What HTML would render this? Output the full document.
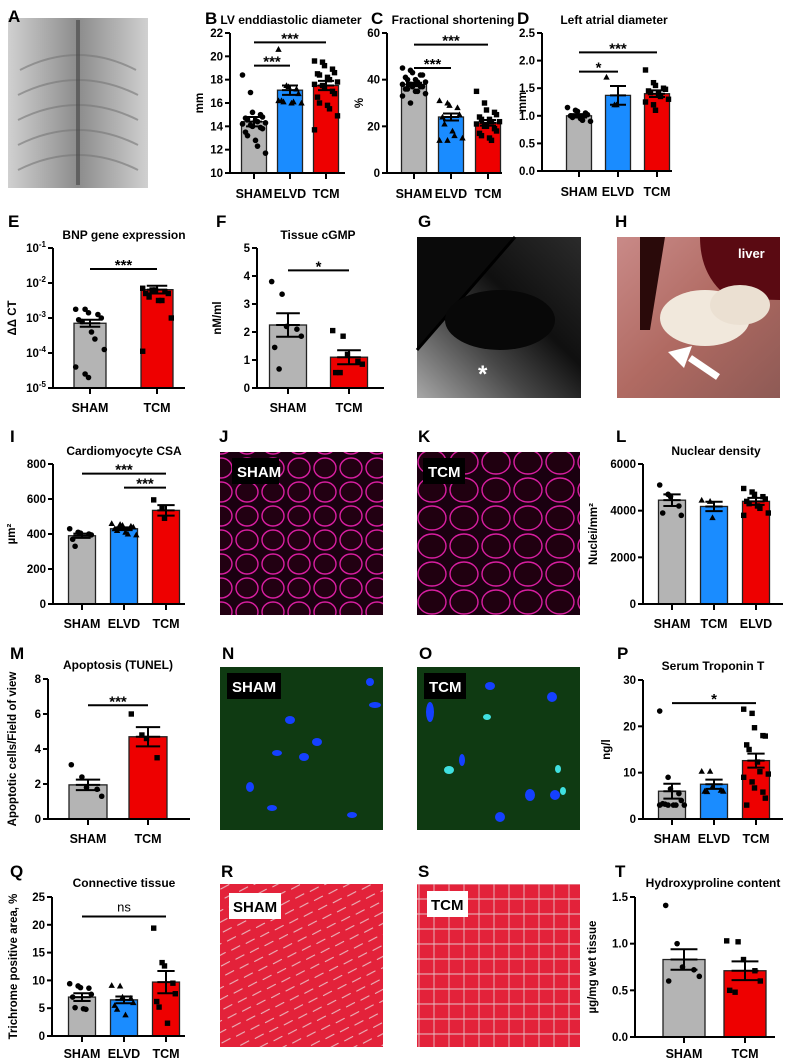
<!DOCTYPE html>
<html><head><meta charset="utf-8"><style>
html,body{margin:0;padding:0;background:#fff}
svg{display:block;font-family:"Liberation Sans",Arial,sans-serif}
</style></head><body>
<svg id="fig" width="788" height="1062" viewBox="0 0 788 1062" xmlns="http://www.w3.org/2000/svg">
<defs>
<linearGradient id="gA" x1="0" y1="0" x2="1" y2="0"><stop offset="0" stop-color="#d0d0d0"/><stop offset=".5" stop-color="#8c8c8c"/><stop offset="1" stop-color="#d0d0d0"/></linearGradient>
<linearGradient id="gG" x1="0" y1="1" x2="1" y2="0"><stop offset="0" stop-color="#cfcfcf"/><stop offset=".35" stop-color="#555"/><stop offset=".6" stop-color="#111"/><stop offset="1" stop-color="#333"/></linearGradient>
<linearGradient id="gH" x1="0" y1="0" x2="1" y2="1"><stop offset="0" stop-color="#c98a88"/><stop offset=".5" stop-color="#b06a62"/><stop offset="1" stop-color="#8e5a55"/></linearGradient>
<pattern id="pJ" width="26" height="24" patternUnits="userSpaceOnUse"><rect width="26" height="24" fill="#1a0010"/><ellipse cx="13" cy="12" rx="11" ry="10" fill="#220012" stroke="#d81ea0" stroke-width="1.4"/></pattern>
<pattern id="pK" width="32" height="28" patternUnits="userSpaceOnUse"><rect width="32" height="28" fill="#1a0010"/><ellipse cx="16" cy="14" rx="14" ry="12" fill="#200010" stroke="#d81ea0" stroke-width="1.4"/></pattern>
<pattern id="pR" width="16" height="10" patternUnits="userSpaceOnUse" patternTransform="rotate(-25)"><rect width="16" height="10" fill="#e3223a"/><path d="M0 9 L10 8.5" stroke="#e9c3c8" stroke-width="1"/></pattern>
<pattern id="pS" width="15" height="15" patternUnits="userSpaceOnUse"><rect width="15" height="15" fill="#e3223a"/><path d="M0 14 H15 M14 0 V15" stroke="#e6c1c6" stroke-width="0.9"/></pattern>
</defs>
<g id="images">
<g><rect x="8" y="18" width="140" height="170" fill="url(#gA)"/><g fill="none" stroke="#777" stroke-width="2" opacity=".6"><path d="M20 70 Q78 40 136 70"/><path d="M18 95 Q78 65 138 95"/><path d="M18 120 Q78 90 138 120"/><path d="M18 145 Q78 115 138 145"/><path d="M18 170 Q78 140 138 170"/></g><path d="M78 20 V185" stroke="#444" stroke-width="4" opacity=".6"/></g>
<g><rect x="417" y="237" width="164" height="161" fill="#0a0a0a"/><path d="M417 350 L515 237 L581 237 L581 398 L417 398Z" fill="url(#gG)" opacity=".8"/><path d="M417 350 L515 237" stroke="#000" stroke-width="3"/><ellipse cx="500" cy="320" rx="55" ry="30" fill="#080808"/><text x="478" y="382" font-size="24" font-weight="bold" fill="#fff">*</text></g>
<g><rect x="617" y="237" width="163" height="161" fill="url(#gH)"/><path d="M700 237 H780 V300 Q740 300 720 290 Q700 270 700 237Z" fill="#5a0a12"/><path d="M640 237 L665 237 L650 330 L640 330Z" fill="#2a0a0a"/><ellipse cx="705" cy="318" rx="45" ry="28" fill="#f1e8dc"/><ellipse cx="740" cy="305" rx="30" ry="20" fill="#ebe0d2"/><text x="738" y="258" font-size="13" font-weight="bold" fill="#fff">liver</text><path d="M718 377 L690 358" stroke="#fff" stroke-width="7"/><path d="M668 352 L692 346 L684 368Z" fill="#fff"/></g>
<g><rect x="220" y="452" width="163" height="163" fill="url(#pJ)"/><rect x="232" y="458" width="47" height="26" fill="#000"/><text x="237" y="477" font-size="15" font-weight="bold" fill="#fff">SHAM</text></g>
<g><rect x="417" y="452" width="163" height="163" fill="url(#pK)"/><rect x="423" y="458" width="42" height="26" fill="#000"/><text x="428" y="477" font-size="15" font-weight="bold" fill="#fff">TCM</text></g>
<g><rect x="220" y="667" width="163" height="163" fill="#0f3a12"/><g fill="#1540ff"><ellipse cx="290" cy="720" rx="5" ry="4"/><ellipse cx="317" cy="742" rx="5" ry="4"/><ellipse cx="304" cy="757" rx="5" ry="4"/><ellipse cx="277" cy="753" rx="5" ry="3"/><ellipse cx="250" cy="787" rx="4" ry="5"/><ellipse cx="272" cy="808" rx="5" ry="3"/><ellipse cx="370" cy="682" rx="4" ry="4"/><ellipse cx="375" cy="705" rx="6" ry="3"/><ellipse cx="352" cy="815" rx="5" ry="3"/></g><rect x="227" y="673" width="54" height="26" fill="#000"/><text x="232" y="692" font-size="15" font-weight="bold" fill="#fff">SHAM</text></g>
<g><rect x="417" y="667" width="163" height="163" fill="#0f3a12"/><g fill="#1540ff"><ellipse cx="490" cy="686" rx="5" ry="4"/><ellipse cx="552" cy="697" rx="5" ry="5"/><ellipse cx="462" cy="760" rx="3" ry="6"/><ellipse cx="530" cy="795" rx="5" ry="6"/><ellipse cx="555" cy="795" rx="5" ry="5"/><ellipse cx="500" cy="817" rx="5" ry="5"/><ellipse cx="430" cy="712" rx="4" ry="10"/></g><g fill="#40e0e0"><ellipse cx="487" cy="717" rx="4" ry="3"/><ellipse cx="558" cy="769" rx="3" ry="4"/><ellipse cx="449" cy="770" rx="5" ry="4"/><ellipse cx="563" cy="791" rx="3" ry="4"/></g><rect x="424" y="673" width="42" height="26" fill="#000"/><text x="429" y="692" font-size="15" font-weight="bold" fill="#fff">TCM</text></g>
<g><rect x="220" y="884" width="163" height="163" fill="url(#pR)"/><rect x="229" y="893" width="52" height="26" fill="#fff"/><text x="233" y="912" font-size="15" font-weight="bold" fill="#000">SHAM</text></g>
<g><rect x="417" y="884" width="163" height="163" fill="url(#pS)"/><rect x="427" y="891" width="41" height="26" fill="#fff"/><text x="431" y="910" font-size="15" font-weight="bold" fill="#000">TCM</text></g>
</g>
<g id="charts"></g>
<g id="letters" font-size="17" font-weight="bold">
<text x="8" y="22">A</text><text x="205" y="24">B</text><text x="371" y="24">C</text><text x="517" y="24">D</text>
<text x="8" y="227">E</text><text x="216" y="227">F</text><text x="418" y="227">G</text><text x="615" y="227">H</text>
<text x="10" y="442">I</text><text x="219" y="442">J</text><text x="418" y="442">K</text><text x="616" y="442">L</text>
<text x="10" y="659">M</text><text x="222" y="659">N</text><text x="419" y="659">O</text><text x="617" y="659">P</text>
<text x="10" y="877">Q</text><text x="221" y="877">R</text><text x="418" y="877">S</text><text x="615" y="877">T</text>
</g>
</svg>
<script>
// ---- data ----
const B_cats=["SHAM","ELVD","TCM"];
const B_means=[14.4,17.1,17.5];
const B_sems=[0.4,0.4,0.4];
const B_pts=[[18.4,16.9,15.2,15.0,14.8,14.7,14.6,14.5,14.4,14.3,14.2,14.1,14.0,13.9,13.8,13.5,13.2,12.8,12.3,11.7],[20.6,17.5,17.4,17.2,16.8,16.2,16.1,16.0,16.1,16.0,16.2],[19.6,19.5,19.2,18.9,18.6,18.5,18.4,18.2,18.0,17.8,17.6,17.5,17.3,17.0,16.8,16.5,16.0,15.8,15.5,14.9,13.7]];
const B_ticks=[10,12,14,16,18,20,22];
const B_sig=[[0,2,21.2,"***"],[0,1,19.2,"***"]];

const C_cats=["SHAM","ELVD","TCM"];
const C_means=[38,24,21.5];
const C_sems=[0.7,1.5,1.2];
const C_pts=[[45,44,43,42,42,41,40,40,39,39,38,38,37,37,37,36,36,35,35,34,33,30],[31,30,29,28,25,24,21,18,16,15,14,14],[35,30,27,26,25,24,23,23,22,22,21,20,20,19,18,17,16,15,14]];
const C_ticks=[0,20,40,60];
const C_sig=[[0,2,55,"***"],[0,1,45,"***"]];

const D_cats=["SHAM","ELVD","TCM"];
const D_means=[1.0,1.37,1.4];
const D_sems=[0.03,0.17,0.06];
const D_pts=[[1.15,1.1,1.08,1.05,1.02,1.0,0.97,0.95,0.92,0.9],[1.7,1.2,1.2],[1.83,1.6,1.55,1.5,1.48,1.45,1.42,1.4,1.35,1.3,1.25,1.2,1.1]];
const D_ticks=[0,0.5,1.0,1.5,2.0,2.5];
const D_sig=[[0,2,2.15,"***"],[0,1,1.8,"*"]];

// E values are log10 of ΔΔCT
const E_cats=["SHAM","TCM"];
const E_means=[-3.15,-2.19];
const E_sems=[0.1,0.11];
const E_pts=[[-2.75,-2.75,-2.85,-2.9,-3.0,-3.05,-3.1,-3.4,-3.6,-3.9,-4.4,-4.6,-4.7],[-2.15,-2.2,-2.2,-2.25,-2.3,-2.3,-2.4,-2.5,-2.5,-3.0,-3.95]];
const E_ticks=[-5,-4,-3,-2,-1];
const E_sig=[[0,1,-1.6,"***"]];

const F_cats=["SHAM","TCM"];
const F_means=[2.25,1.1];
const F_sems=[0.42,0.25];
const F_pts=[[3.8,3.35,2.2,2.1,1.85,1.45,0.68],[2.05,1.85,1.2,0.95,0.85,0.55,0.55]];
const F_ticks=[0,1,2,3,4,5];
const F_sig=[[0,1,4.2,"*"]];

const I_cats=["SHAM","ELVD","TCM"];
const I_means=[390,430,535];
const I_sems=[12,8,30];
const I_pts=[[430,410,405,400,395,370,330],[460,455,450,445,440,430,420,410,400,395],[595,550,490]];
const I_ticks=[0,200,400,600,800];
const I_sig=[[0,2,745,"***"],[1,2,665,"***"]];

const L_cats=["SHAM","TCM","ELVD"];
const L_means=[4450,4180,4400];
const L_sems=[250,200,150];
const L_pts=[[5100,4700,4600,4200,3800,3900],[4450,4400,3700],[4950,4800,4700,4600,4500,4400,4300,4200,4100,3900,3800]];
const L_ticks=[0,2000,4000,6000];
const L_sig=[];

const M_cats=["SHAM","TCM"];
const M_means=[1.95,4.7];
const M_sems=[0.3,0.55];
const M_pts=[[3.1,2.4,1.8,1.7,1.3],[6.0,4.8,4.6,3.5]];
const M_ticks=[0,2,4,6,8];
const M_sig=[[0,1,6.5,"***"]];

const P_cats=["SHAM","ELVD","TCM"];
const P_means=[6.0,7.5,12.6];
const P_sems=[1.6,1.0,1.5];
const P_pts=[[23.3,9.0,6.5,5.5,4.0,3.3,3.2,3.0,3.0,3.0,3.0,3.0],[10.3,10.3,7.0,6.2,6.0,6.0,5.9],[23.7,22.8,19.7,18.0,17.9,16.0,15.0,12.3,10.2,9.7,9.0,8.0,6.7,5.8,4.5,3.0]];
const P_ticks=[0,10,20,30];
const P_sig=[[0,2,25,"*"]];

const Q_cats=["SHAM","ELVD","TCM"];
const Q_means=[7.0,6.5,9.7];
const Q_sems=[0.7,0.6,2.0];
const Q_pts=[[9.4,9.0,8.7,8.6,7.5,7.0,5.1,4.9,4.8],[9.1,9.0,7.0,6.8,6.0,5.5,4.8,3.8],[19.4,13.2,12.6,9.5,7.6,6.2,5.2,2.3]];
const Q_ticks=[0,5,10,15,20,25];
const Q_sig=[[0,2,21.5,"ns"]];

const T_cats=["SHAM","TCM"];
const T_means=[0.83,0.71];
const T_sems=[0.11,0.1];
const T_pts=[[1.41,1.0,0.75,0.72,0.65,0.6],[1.03,1.02,0.83,0.71,0.6,0.5,0.48]];
const T_ticks=[0,0.5,1.0,1.5];
const T_sig=[];

// ---- drawing ----
const NS="http://www.w3.org/2000/svg";
const root=document.getElementById("charts");
function mk(tag,attrs,parent){const e=document.createElementNS(NS,tag);for(const k in attrs)e.setAttribute(k,attrs[k]);parent.appendChild(e);return e;}
const COL3=["#b4b4b4","#1a8cff","#ee0000"],COL2=["#b4b4b4","#ee0000"];
const MARK3=["circle","tri","square"],MARK2=["circle","square"];

function chart(id,o){
  const g=mk("g",{},root);
  
  
  const n=o.cats.length,cols=n===3?COL3:COL2,marks=n===3?MARK3:MARK2;
  const lo=o.ticks[0],hi=o.ticks[o.ticks.length-1];
  const Y=v=>o.yb-(v-lo)/(hi-lo)*(o.yb-o.yt);
  const X=i=>o.x0+o.step*i;
  const t=mk("text",{x:o.tx,y:o.ty,"font-size":12,"font-weight":"bold","text-anchor":"middle"},g);t.textContent=o.title;
  
  
  const yt=mk("text",{x:0,y:0,"font-size":11.5,"font-weight":"bold","text-anchor":"middle",transform:`translate(${o.ytx},${(o.yt+o.yb)/2}) rotate(-90)`},g);yt.textContent=o.ylabel;
  
  
  for(let i=0;i<n;i++){
    const r=mk("rect",{x:X(i)-o.bw/2,y:Y(o.means[i]),width:o.bw,height:o.yb-Y(o.means[i]),fill:cols[i],stroke:"#222","stroke-width":1.3},g);
    
    
  }
  for(let i=0;i<n;i++){
    o.pts[i].forEach((v,k)=>{
      const off=((k%5)-2)*o.bw*0.2+((k%2)?1:-1)*1.5;
      const cx=X(i)+off,cy=Y(v);
      let e;
      if(marks[i]==="circle")e=mk("circle",{cx,cy,r:2.8,fill:"#000"},g);
      else if(marks[i]==="square")e=mk("rect",{x:cx-2.7,y:cy-2.7,width:5.4,height:5.4,fill:"#000"},g);
      else e=mk("path",{d:`M${cx} ${cy-3.3}L${cx+3.2} ${cy+2.5}L${cx-3.2} ${cy+2.5}Z`,fill:"#000"},g);
      
      
    });
  }
  for(let i=0;i<n;i++){
    const a=Y(o.means[i]+o.sems[i]),b=Y(o.means[i]-o.sems[i]),w=o.bw*0.32;
    const e=mk("path",{d:`M${X(i)} ${a}V${b}M${X(i)-w} ${a}H${X(i)+w}M${X(i)-w} ${b}H${X(i)+w}M${X(i)-w} ${Y(o.means[i])}H${X(i)+w}`,stroke:"#000","stroke-width":2,fill:"none"},g);
    
    
  }
  const ya=mk("path",{d:`M${o.ax} ${o.yt}V${o.yb}`,stroke:"#000","stroke-width":2},g);
  
  
  const xa=mk("path",{d:`M${o.ax} ${o.yb}H${o.xe}`,stroke:"#000","stroke-width":2},g);
  
  
  o.ticks.forEach(v=>{
    mk("path",{d:`M${o.ax-5} ${Y(v)}H${o.ax}`,stroke:"#000","stroke-width":2},g);
    const tl=mk("text",{x:o.ax-7,y:Y(v)+4,"font-size":11.5,"font-weight":"bold","text-anchor":"end"},g);
    if(o.log){tl.textContent="10";const s=mk("tspan",{dy:-5,"font-size":8},tl);s.textContent=String(v);}
    else tl.textContent=o.fmt?o.fmt(v):String(v);
    
    
  });
  for(let i=0;i<n;i++){
    mk("path",{d:`M${X(i)} ${o.yb}V${o.yb+6}`,stroke:"#000","stroke-width":2},g);
    const cl=mk("text",{x:X(i),y:o.cy,"font-size":12.5,"font-weight":"bold","text-anchor":"middle"},g);cl.textContent=o.cats[i];
    
    
  }
  o.sig.forEach(s=>{
    const y=Y(s[2]);
    const l=mk("path",{d:`M${X(s[0])} ${y}H${X(s[1])}`,stroke:"#000","stroke-width":2},g);
    
    
    const st=mk("text",{x:(X(s[0])+X(s[1]))/2,y:s[3]==="ns"?y-5:y+1,"font-size":s[3]==="ns"?13:15,"font-weight":s[3]==="ns"?"normal":"bold","text-anchor":"middle"},g);st.textContent=s[3];
    
    
  });
}
const f1=v=>v.toFixed(1);
chart("lv-diameter",{cats:B_cats,means:B_means,sems:B_sems,pts:B_pts,ticks:B_ticks,sig:B_sig,title:"LV enddiastolic diameter",ylabel:"mm",tx:291,ty:24,ytx:203,ax:230,xe:345,yt:33,yb:173,x0:254,step:36,bw:25,cy:198});
chart("fractional-shortening",{cats:C_cats,means:C_means,sems:C_sems,pts:C_pts,ticks:C_ticks,sig:C_sig,title:"Fractional shortening",ylabel:"%",tx:453,ty:24,ytx:363,ax:387,xe:502,yt:33,yb:173,x0:414,step:37,bw:25,cy:198});
chart("left-atrial-diameter",{cats:D_cats,means:D_means,sems:D_sems,pts:D_pts,ticks:D_ticks,sig:D_sig,fmt:f1,title:"Left atrial diameter",ylabel:"mm",tx:614,ty:24,ytx:526,ax:542,xe:672,yt:33,yb:171,x0:579,step:39,bw:25,cy:196});
chart("bnp-expression",{cats:E_cats,means:E_means,sems:E_sems,pts:E_pts,ticks:E_ticks,sig:E_sig,log:true,title:"BNP gene expression",ylabel:"ΔΔ CT",tx:124,ty:239,ytx:16,ax:53,xe:185,yt:248,yb:388,x0:90,step:67,bw:32,cy:412});
chart("tissue-cgmp",{cats:F_cats,means:F_means,sems:F_sems,pts:F_pts,ticks:F_ticks,sig:F_sig,title:"Tissue cGMP",ylabel:"nM/ml",tx:318,ty:239,ytx:221,ax:257,xe:384,yt:248,yb:388,x0:288,step:61,bw:37,cy:412});
chart("cardiomyocyte-csa",{cats:I_cats,means:I_means,sems:I_sems,pts:I_pts,ticks:I_ticks,sig:I_sig,title:"Cardiomyocyte CSA",ylabel:"µm²",tx:124,ty:455,ytx:15,ax:53,xe:185,yt:464,yb:604,x0:82,step:42,bw:27,cy:628});
chart("nuclear-density",{cats:L_cats,means:L_means,sems:L_sems,pts:L_pts,ticks:L_ticks,sig:L_sig,title:"Nuclear density",ylabel:"Nuclei/mm²",tx:716,ty:455,ytx:597,ax:643,xe:783,yt:464,yb:604,x0:672,step:42,bw:27,cy:628});
chart("apoptosis",{cats:M_cats,means:M_means,sems:M_sems,pts:M_pts,ticks:M_ticks,sig:M_sig,title:"Apoptosis  (TUNEL)",ylabel:"Apoptotic cells/Field of view",tx:118,ty:669,ytx:16,ax:48,xe:190,yt:679,yb:819,x0:88,step:60,bw:38,cy:843});
chart("troponin",{cats:P_cats,means:P_means,sems:P_sems,pts:P_pts,ticks:P_ticks,sig:P_sig,title:"Serum  Troponin  T",ylabel:"ng/l",tx:713,ty:670,ytx:610,ax:643,xe:783,yt:680,yb:819,x0:672,step:42,bw:27,cy:843});
chart("connective-tissue",{cats:Q_cats,means:Q_means,sems:Q_sems,pts:Q_pts,ticks:Q_ticks,sig:Q_sig,title:"Connective tissue",ylabel:"Trichrome positive area, %",tx:124,ty:887,ytx:17,ax:52,xe:185,yt:897,yb:1036,x0:82,step:42,bw:27,cy:1058});
chart("hydroxyproline",{cats:T_cats,means:T_means,sems:T_sems,pts:T_pts,ticks:T_ticks,sig:T_sig,fmt:f1,title:"Hydroxyproline content",ylabel:"µg/mg wet tissue",tx:713,ty:887,ytx:596,ax:635,xe:775,yt:897,yb:1037,x0:684,step:61,bw:42,cy:1058});
</script>
</body></html>
